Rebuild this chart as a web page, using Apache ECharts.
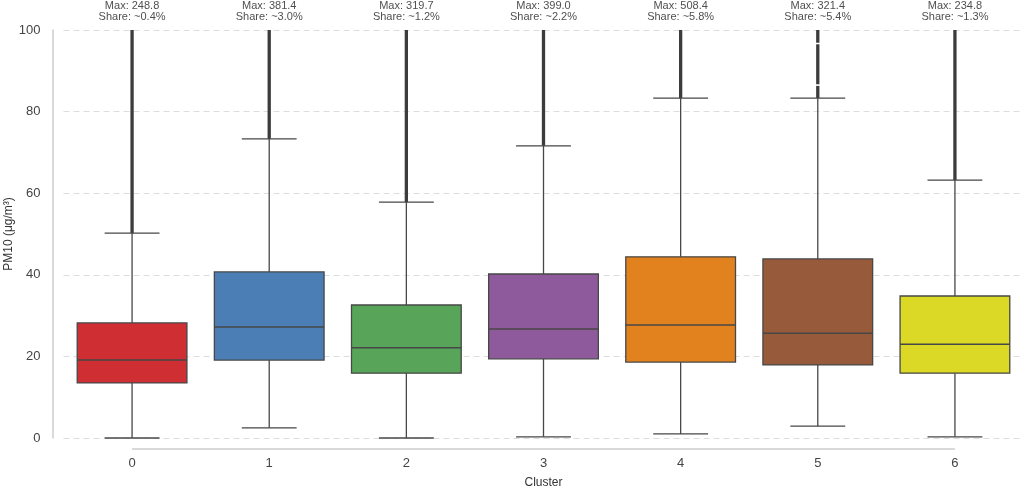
<!DOCTYPE html>
<html>
<head>
<meta charset="utf-8">
<script src="https://cdn.jsdelivr.net/npm/echarts@6/dist/echarts.min.js"></script>
<style>
html,body{margin:0;padding:0;background:#fff;}
#chart{width:1024px;height:489px;}
</style>
</head>
<body>
<div id="chart"></div>
<script>
// ---- data ----
const categories   = ['0', '1', '2', '3', '4', '5', '6'];
const whiskerLow   = [0.0, 2.5, 0.0, 0.3, 1.0, 2.9, 0.3];
const q1           = [13.5, 19.1, 15.9, 19.4, 18.6, 17.9, 15.9];
const median       = [19.1, 27.2, 22.1, 26.7, 27.7, 25.7, 23.0];
const q3           = [28.2, 40.7, 32.6, 40.2, 44.4, 43.9, 34.8];
const whiskerHigh  = [50.2, 73.3, 57.8, 71.6, 83.3, 83.3, 63.2];
const maxValue     = [248.8, 381.4, 319.7, 399.0, 508.4, 321.4, 234.8];
const outlierShare = ['~0.4%', '~3.0%', '~1.2%', '~2.2%', '~5.8%', '~5.4%', '~1.3%'];
// runs of densely packed outlier points: [cluster, from, to]
const outlierRuns  = [
  [0, 50.2, 248.8],
  [1, 73.3, 381.4],
  [2, 57.8, 319.7],
  [3, 71.6, 399.0],
  [4, 83.3, 508.4],
  [5, 83.3, 86.3], [5, 86.7, 96.5], [5, 96.9, 321.4],
  [6, 63.2, 234.8]
];
const boxColors = ['#cf2f33', '#4a7eb5', '#58a55a', '#8f5a9b', '#e2821f', '#975a3a', '#dbd925'];
const yTicksMax = 100;

const FONT = '"Liberation Sans", Arial, "DejaVu Sans", sans-serif';
const EDGE = '#474747';

const boxData = categories.map((c, i) => [i, whiskerLow[i], q1[i], median[i], q3[i], whiskerHigh[i]]);

const chart = echarts.init(document.getElementById('chart'), null, {renderer: 'canvas'});

const option = {
  animation: false,
  backgroundColor: '#ffffff',
  textStyle: {fontFamily: FONT},
  grid: {left: 63.5, right: 0.5, top: 30, bottom: 51, containLabel: false, outerBoundsMode: 'none'},
  xAxis: {
    type: 'category',
    data: categories,
    axisLine: {show: false},
    axisTick: {show: false},
    axisLabel: {margin: 19, fontSize: 13, color: '#444', fontFamily: FONT},
    splitLine: {show: false},
    name: 'Cluster',
    nameLocation: 'middle',
    nameGap: 39,
    nameMoveOverlap: false,
    nameTextStyle: {fontSize: 12, color: '#333', fontFamily: FONT}
  },
  yAxis: {
    type: 'value',
    min: 0,
    max: yTicksMax,
    interval: 20,
    offset: 11,
    axisLine: {show: true, lineStyle: {color: '#cccccc', width: 1.5}},
    axisTick: {show: false},
    axisLabel: {margin: 12, fontSize: 13, color: '#444', fontFamily: FONT},
    splitLine: {show: true, lineStyle: {color: '#dddddd', width: 1, type: [6, 4]}},
    name: 'PM10 (μg/m³)',
    nameLocation: 'middle',
    nameGap: 38,
    nameMoveOverlap: false,
    nameTextStyle: {fontSize: 12, color: '#333', fontFamily: FONT}
  },
  series: [
    {
      type: 'custom',
      name: 'outliers',
      clip: true,
      data: outlierRuns,
      encode: {x: 0, y: [1, 2]},
      renderItem: function (params, api) {
        const a = api.coord([api.value(0), api.value(1)]);
        const b = api.coord([api.value(0), api.value(2)]);
        return {
          type: 'line',
          shape: {x1: a[0], y1: a[1], x2: b[0], y2: b[1]},
          style: {stroke: '#3c3c3c', lineWidth: 3.3}
        };
      },
      z: 2
    },
    {
      type: 'custom',
      name: 'boxes',
      clip: false,
      data: boxData,
      encode: {x: 0, y: [1, 2, 3, 4, 5]},
      renderItem: function (params, api) {
        const idx = api.value(0);
        const w = api.size([1, 0])[0] * 0.8;
        const capW = w / 2;
        const pLow = api.coord([idx, api.value(1)]);
        const pQ1 = api.coord([idx, api.value(2)]);
        const pMed = api.coord([idx, api.value(3)]);
        const pQ3 = api.coord([idx, api.value(4)]);
        const pHigh = api.coord([idx, api.value(5)]);
        const x = pQ1[0];
        const lw = {stroke: EDGE, lineWidth: 1.3};
        return {
          type: 'group',
          children: [
            {type: 'line', shape: {x1: x, y1: pQ3[1], x2: x, y2: pHigh[1]}, style: lw},
            {type: 'line', shape: {x1: x, y1: pQ1[1], x2: x, y2: pLow[1]}, style: lw},
            {type: 'line', shape: {x1: x - capW / 2, y1: pHigh[1], x2: x + capW / 2, y2: pHigh[1]}, style: lw},
            {type: 'line', shape: {x1: x - capW / 2, y1: pLow[1], x2: x + capW / 2, y2: pLow[1]}, style: lw},
            {type: 'rect', shape: {x: x - w / 2, y: pQ3[1], width: w, height: pQ1[1] - pQ3[1]},
              style: {fill: boxColors[idx], stroke: EDGE, lineWidth: 1.3}},
            {type: 'line', shape: {x1: x - w / 2, y1: pMed[1], x2: x + w / 2, y2: pMed[1]},
              style: {stroke: EDGE, lineWidth: 1.5}}
          ]
        };
      },
      z: 3
    },
    {
      type: 'scatter',
      name: 'annotations',
      data: categories.map((c, i) => [i, yTicksMax]),
      symbolSize: 0,
      silent: true,
      label: {
        show: true,
        position: 'top',
        distance: 7,
        fontSize: 11,
        lineHeight: 11.5,
        color: '#222',
        fontFamily: FONT,
        align: 'center',
        formatter: function (p) {
          const i = p.dataIndex;
          return 'Max: ' + maxValue[i].toFixed(1) + '\nShare: ' + outlierShare[i];
        }
      },
      z: 5
    }
  ]
};
chart.setOption(option);

// trimmed bottom spine from first to last category, drawn from the axis scale
const p0 = chart.convertToPixel({xAxisIndex: 0, yAxisIndex: 0}, [0, 0]);
const p6 = chart.convertToPixel({xAxisIndex: 0, yAxisIndex: 0}, [categories.length - 1, 0]);
chart.setOption({
  graphic: [{
    type: 'line',
    shape: {x1: p0[0], y1: p0[1] + 11, x2: p6[0], y2: p6[1] + 11},
    style: {stroke: '#cccccc', lineWidth: 1.5},
    silent: true
  }]
});
</script>
</body>
</html>
